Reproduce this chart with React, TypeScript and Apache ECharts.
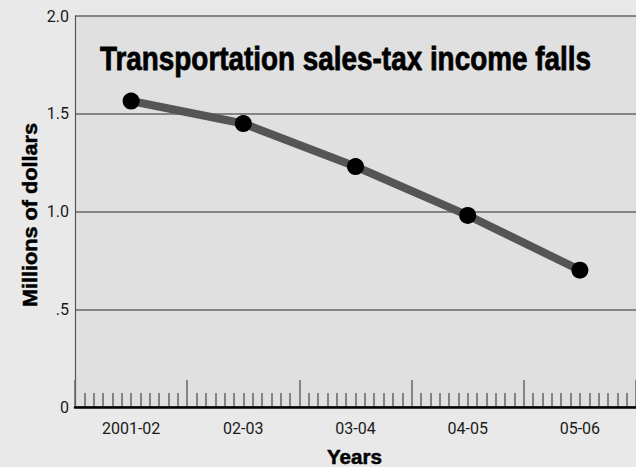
import React, { useEffect, useRef } from "react";
import * as echarts from "echarts";

const categories = ["2001-02", "02-03", "03-04", "04-05", "05-06"];
const incomeMillions = [1.565, 1.45, 1.23, 0.98, 0.7];
const yTickValues = [0, 0.5, 1, 1.5, 2];
const yTickLabels = ["0", ".5", "1.0", "1.5", "2.0"];
const titleText = "Transportation sales-tax income falls";
const yName = "Millions of dollars";
const xName = "Years";

const BOLD_FONT = "'Liberation Sans', Arial, sans-serif";
const LABEL_FONT = "Roboto, 'Liberation Sans', sans-serif";

function measure(text: string, font: string): number {
  const c = document.createElement("canvas");
  const ctx = c.getContext("2d");
  if (!ctx) return text.length * 10;
  ctx.font = font;
  return ctx.measureText(text).width;
}

export default function App() {
  const ref = useRef<HTMLDivElement>(null);
  useEffect(() => {
    if (!ref.current) return;
    const chart = echarts.init(ref.current, undefined, { renderer: "svg" });

    const titleSize = 34;
    const titleW = measure(titleText, `bold ${titleSize}px ${BOLD_FONT}`);
    const ySize = 21;
    const yW = measure(yName, `bold ${ySize}px ${BOLD_FONT}`);
    const xSize = 21;
    const xW = measure(xName, `bold ${xSize}px ${BOLD_FONT}`);

    chart.setOption({
      animation: false,
      backgroundColor: "#e9e9e9",
      grid: {
        left: 75,
        top: 16,
        right: -3,
        bottom: 60,
        show: true,
        backgroundColor: "#e0e0e0",
        borderWidth: 0,
      },
      xAxis: [
        {
          type: "category",
          data: categories,
          boundaryGap: true,
          axisLine: { show: true, lineStyle: { color: "#000", width: 2.5 } },
          axisTick: { show: false },
          axisLabel: {
            margin: 13,
            color: "#1a1a1a",
            fontFamily: LABEL_FONT,
            fontSize: 16,
          },
          splitLine: { show: false },
          z: 5,
        },
        {
          type: "value",
          position: "bottom",
          min: 0,
          max: 60,
          interval: 12,
          axisLine: { show: false },
          axisLabel: { show: false },
          splitLine: { show: false },
          axisTick: { show: true, inside: true, length: 27, lineStyle: { color: "#666", width: 1.5 } },
          minorTick: { show: true, splitNumber: 12, length: 14, lineStyle: { color: "#666", width: 1.5 } },
          minorSplitLine: { show: false },
        },
      ],
      yAxis: {
        type: "value",
        min: 0,
        max: 2,
        interval: 0.5,
        axisLine: { show: true, lineStyle: { color: "#555", width: 1.2 } },
        axisTick: { show: false },
        axisLabel: {
          margin: 6,
          color: "#1a1a1a",
          fontFamily: LABEL_FONT,
          fontSize: 16,
          formatter: (v: number) => {
            const i = yTickValues.findIndex((t) => Math.abs(t - v) < 1e-9);
            return i >= 0 ? yTickLabels[i] : String(v);
          },
        },
        splitLine: { show: true, lineStyle: { color: "#666", width: 1.5 } },
      },
      series: [
        {
          type: "line",
          xAxisIndex: 0,
          data: incomeMillions,
          lineStyle: { color: "#555", width: 8 },
          symbol: "circle",
          symbolSize: 17,
          itemStyle: { color: "#000" },
          z: 10,
        },
      ],
      graphic: [
        {
          type: "text",
          x: 100,
          y: 59,
          scaleX: 491 / titleW,
          z: 100,
          style: {
            text: titleText,
            font: `bold ${titleSize}px ${BOLD_FONT}`,
            fill: "#000",
            stroke: "#000",
            lineWidth: 0.8,
            align: "left",
            verticalAlign: "middle",
          },
        },
        {
          type: "text",
          x: 30.5,
          y: 215,
          rotation: Math.PI / 2,
          scaleX: 184 / yW,
          z: 100,
          style: {
            text: yName,
            font: `bold ${ySize}px ${BOLD_FONT}`,
            fill: "#000",
            stroke: "#000",
            lineWidth: 0.5,
            align: "center",
            verticalAlign: "middle",
          },
        },
        {
          type: "text",
          x: 354.5,
          y: 456,
          scaleX: 55 / xW,
          z: 100,
          style: {
            text: xName,
            font: `bold ${xSize}px ${BOLD_FONT}`,
            fill: "#000",
            stroke: "#000",
            lineWidth: 0.5,
            align: "center",
            verticalAlign: "middle",
          },
        },
      ],
    });
    return () => chart.dispose();
  }, []);
  return (
    <div
      ref={ref}
      style={{ position: "absolute", left: 0, top: 0, width: 636, height: 467 }}
    />
  );
}
